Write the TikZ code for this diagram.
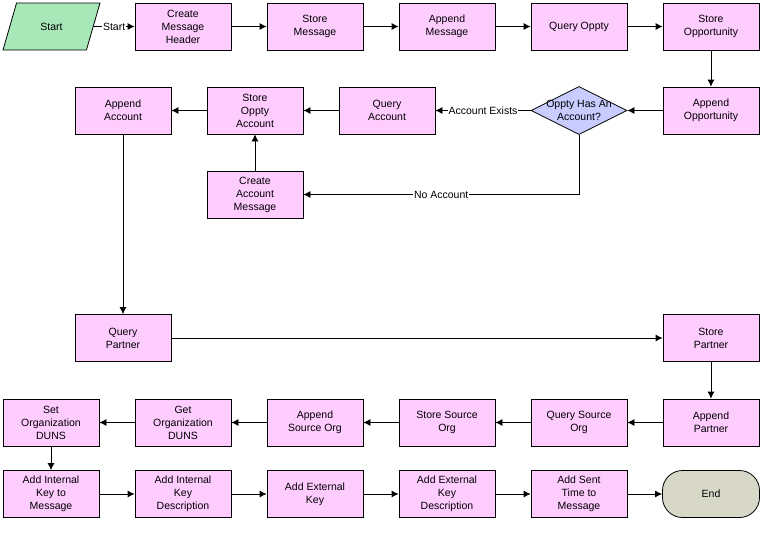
\documentclass[tikz,border=0pt]{standalone}
\usepackage{fontspec}
\setmainfont{Liberation Sans}
\usetikzlibrary{arrows,arrows.meta,positioning,shapes,shapes.geometric}
\definecolor{taskpink}{HTML}{FFCCFF}
\definecolor{startgreen}{HTML}{A8E8B8}
\definecolor{decisionblue}{HTML}{C8CCFF}
\definecolor{endgrey}{HTML}{D8D8C8}

\begin{document}
\begin{tikzpicture}[x=1pt,y=-1pt,
	every node/.style={font=\fontsize{10.5}{13}\selectfont,align=center,inner sep=0pt},
	task/.style={draw,line width=0.8pt,fill=taskpink,minimum width=96pt,minimum height=47pt},
	flow/.style={line width=0.8pt,-{Latex[length=7pt,width=7pt]}},
	lbl/.style={fill=white,inner sep=1pt}]
	\useasboundingbox (0,0) rectangle (782,544);

	\node (start) at (51.5,26.5) [draw,line width=0.8pt,fill=startgreen,trapezium,trapezium left angle=60,trapezium right angle=120,trapezium stretches=true,minimum width=97pt,minimum height=47pt] {Start};
	\node (cmh) at (183,26.5) [task] {Create\\Message\\Header};
	\node (storemsg) at (315,26.5) [task] {Store\\Message};
	\node (appendmsg) at (447,26.5) [task] {Append\\Message};
	\node (queryoppty) at (579,26.5) [task] {Query Oppty};
	\node (storeoppty) at (711,26.5) [task] {Store\\Opportunity};

	\node (appendoppty) at (711,110.5) [task] {Append\\Opportunity};
	\node (hasacct) at (579,110.5) [draw,line width=0.8pt,fill=decisionblue,diamond,minimum width=96pt,minimum height=48pt,label={[align=center,font=\fontsize{10.5}{13}\selectfont]center:Oppty Has An\\Account?}] {};
	\node (queryacct) at (387,110.5) [task] {Query\\Account};
	\node (storeopptyacct) at (255,110.5) [task] {Store\\Oppty\\Account};
	\node (appendacct) at (123,110.5) [task] {Append\\Account};
	\node (createacctmsg) at (255,194.5) [task] {Create\\Account\\Message};

	\node (querypartner) at (123,338) [task] {Query\\Partner};
	\node (storepartner) at (711,338) [task] {Store\\Partner};

	\node (appendpartner) at (711,422.5) [task] {Append\\Partner};
	\node (querysrcorg) at (579,422.5) [task] {Query Source\\Org};
	\node (storesrcorg) at (447,422.5) [task] {Store Source\\Org};
	\node (appendsrcorg) at (315,422.5) [task] {Append\\Source Org};
	\node (getduns) at (183,422.5) [task] {Get\\Organization\\DUNS};
	\node (setduns) at (51,422.5) [task] {Set\\Organization\\DUNS};

	\node (addintkey) at (51,494) [task] {Add Internal\\Key to\\Message};
	\node (addintdesc) at (183,494) [task] {Add Internal\\Key\\Description};
	\node (addextkey) at (315,494) [task] {Add External\\Key};
	\node (addextdesc) at (447,494) [task] {Add External\\Key\\Description};
	\node (addsent) at (579,494) [task] {Add Sent\\Time to\\Message};
	\node (end) at (711,494) [draw,line width=0.8pt,fill=endgrey,rounded corners=20pt,minimum width=97pt,minimum height=47pt] {End};

	\draw[flow] (start) -- node[lbl] {Start} (cmh);
	\draw[flow] (cmh) -- (storemsg);
	\draw[flow] (storemsg) -- (appendmsg);
	\draw[flow] (appendmsg) -- (queryoppty);
	\draw[flow] (queryoppty) -- (storeoppty);
	\draw[flow] (storeoppty) -- (appendoppty);
	\draw[flow] (appendoppty) -- (hasacct);
	\draw[flow] (hasacct) -- node[lbl] {Account Exists} (queryacct);
	\draw[flow] (hasacct.south) |- node[lbl,pos=0.75] {No Account} (createacctmsg);
	\draw[flow] (queryacct) -- (storeopptyacct);
	\draw[flow] (createacctmsg) -- (storeopptyacct);
	\draw[flow] (storeopptyacct) -- (appendacct);
	\draw[flow] (appendacct) -- (querypartner);
	\draw[flow] (querypartner) -- (storepartner);
	\draw[flow] (storepartner) -- (appendpartner);
	\draw[flow] (appendpartner) -- (querysrcorg);
	\draw[flow] (querysrcorg) -- (storesrcorg);
	\draw[flow] (storesrcorg) -- (appendsrcorg);
	\draw[flow] (appendsrcorg) -- (getduns);
	\draw[flow] (getduns) -- (setduns);
	\draw[flow] (setduns) -- (addintkey);
	\draw[flow] (addintkey) -- (addintdesc);
	\draw[flow] (addintdesc) -- (addextkey);
	\draw[flow] (addextkey) -- (addextdesc);
	\draw[flow] (addextdesc) -- (addsent);
	\draw[flow] (addsent) -- (end);
\end{tikzpicture}
\end{document}
